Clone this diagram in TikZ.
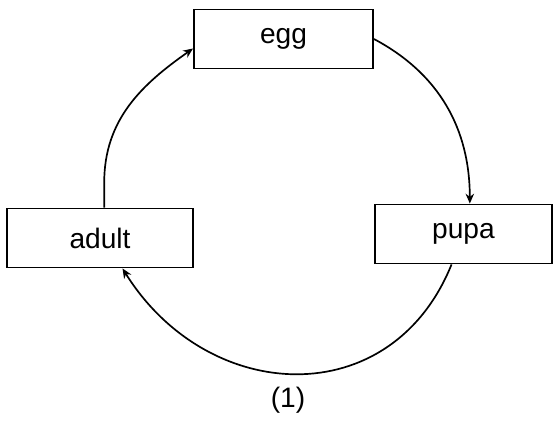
\documentclass[tikz,border=0pt]{standalone}
\usepackage{fontspec}
\setmainfont{Liberation Sans}
\usetikzlibrary{arrows.meta}
\begin{document}
\begin{tikzpicture}[
    x=0.025cm, y=-0.025cm,
    >={Stealth[length=7pt, width=6pt]},
    line width=1.2pt,
    stage/.style={rectangle, draw, minimum height=1.48cm, inner sep=0pt, font=\fontsize{20}{24}\selectfont}
]
  \useasboundingbox (0,0) rectangle (555,423);

  % nodes
  \node[stage, minimum width=4.48cm] (E) at (283.5,39)  {egg};
  \node[stage, minimum width=4.65cm] (A) at (100,238)   {adult};
  \node[stage, minimum width=4.43cm] (P) at (463.5,234) {pupa};
  \node[font=\fontsize{20}{24}\selectfont] (L) at (288,400) {(1)};

  % edges
  \draw[->] ([xshift=3pt]A.north) -- ++(0,-25) to[out=90, in=215] (E.186);
  \draw[->] (E.east) to[out=-28, in=90] ([xshift=4.5pt]P.north);
  \draw[->] ([xshift=-8.5pt]P.south) to[out=-112, in=-58, looseness=1.25] ([xshift=16pt]A.south);
\end{tikzpicture}
\end{document}
